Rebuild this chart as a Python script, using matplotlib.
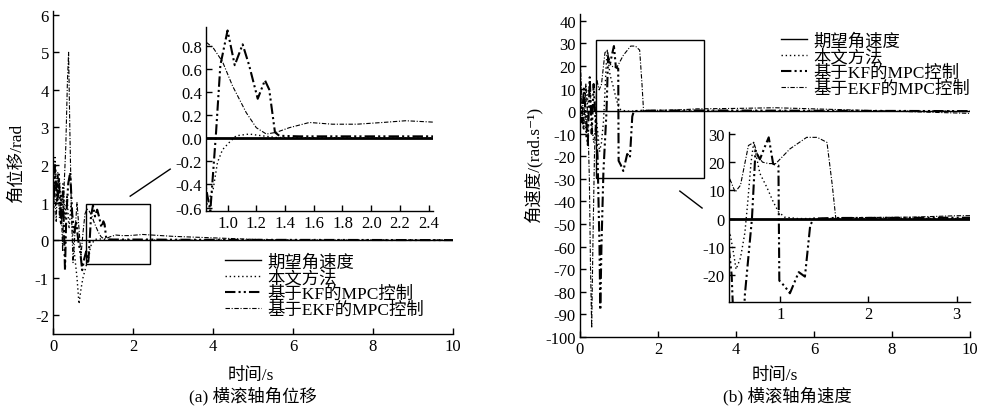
import matplotlib
matplotlib.use('Agg')
import matplotlib.pyplot as plt
from matplotlib.patches import Rectangle

plt.rcParams['font.family'] = ['Liberation Serif', 'Noto Sans CJK SC', 'DejaVu Serif']
plt.rcParams['axes.unicode_minus'] = False

labels = ['期望角速度', '本文方法', '基于KF的MPC控制', '基于EKF的MPC控制']

# (a) 横滚轴角位移
ref_a_t = [0, 10]
ref_a = [0, 0]

ours_a_t = [0, 0.05, 0.1, 0.15, 0.2, 0.25, 0.3, 0.35, 0.4, 0.45, 0.5, 0.55, 0.6, 0.65, 0.7,
            0.75, 0.8, 0.86, 0.9, 0.93, 0.965, 1.01, 1.06, 1.15, 1.24, 1.34, 2.0, 10]
ours_a = [0.3, 2.2, 1.2, 1.8, 0.9, 1.5, 0.6, 1.2, 0.3, 0.9, 0.0, -0.5, -1.0, -1.7, -1.3,
          -1.0, -0.8, -0.56, -0.44, -0.21, -0.1, -0.04, 0.02, 0.035, 0.02, 0.005, 0.0, 0.0]

kf_a_t = [0, 0.05, 0.1, 0.15, 0.2, 0.25, 0.3, 0.33, 0.38, 0.43, 0.48, 0.53, 0.58, 0.63, 0.68,
          0.73, 0.78, 0.83, 0.88, 0.92, 0.95, 1.0, 1.05, 1.105, 1.15, 1.21, 1.26, 1.29, 1.33,
          1.36, 1.5, 2.0, 2.4, 3.0, 10]
kf_a = [0.5, 2.0, 1.0, 1.6, 0.4, 1.3, -0.8, 0.6, 1.5, 1.8, 0.7, 0.2, 0.5, 0.0, -0.3,
        -0.8, -0.5, -0.3, -0.63, 0.05, 0.63, 0.93, 0.63, 0.81, 0.63, 0.34, 0.5, 0.42, 0.05,
        0.02, 0.015, 0.015, 0.015, 0.01, 0.0]

ekf_a_t = [0, 0.04, 0.08, 0.12, 0.16, 0.2, 0.24, 0.28, 0.32, 0.36, 0.39, 0.42, 0.46, 0.5, 0.55,
           0.6, 0.65, 0.7, 0.75, 0.8, 0.85, 0.9, 0.965, 1.035, 1.13, 1.2, 1.27, 1.34, 1.43,
           1.57, 1.73, 1.9, 2.08, 2.24, 2.4, 3.0, 4.0, 5.0, 6.0, 8.0, 10.0]
ekf_a = [0.8, 1.5, 0.5, 1.8, 0.6, 1.2, -0.3, 1.5, 2.5, 4.2, 5.0, 3.0, 0.8, -0.6, 0.2,
         1.0, 0.3, -0.4, 0.2, 0.7, 0.83, 0.78, 0.66, 0.45, 0.22, 0.09, 0.035, 0.05, 0.09,
         0.135, 0.12, 0.12, 0.135, 0.15, 0.14, 0.1, 0.06, 0.02, 0.0, 0.0, 0.0]

# (b) 横滚轴角速度
ref_b_t = [0, 10]
ref_b = [0, 0]

ours_b_t = [0, 0.04, 0.08, 0.12, 0.16, 0.2, 0.25, 0.3, 0.35, 0.4, 0.43, 0.47, 0.5, 0.55, 0.6,
            0.63, 0.67, 0.7, 0.73, 0.77, 0.85, 0.92, 0.98, 1.05, 1.2, 2.0, 10]
ours_b = [15, 2, -8, 5, -12, 8, 12, -5, -14, -8, -5, -12, -18, -14, -5,
          5, 20, 27, 22, 16, 11, 6, 2.4, 0.5, 0, 0, 0]

kf_b_t = [0, 0.05, 0.1, 0.15, 0.2, 0.25, 0.3, 0.35, 0.4, 0.45, 0.5, 0.52, 0.55, 0.6, 0.68,
          0.72, 0.77, 0.82, 0.87, 0.92, 0.98, 0.99, 1.05, 1.11, 1.21, 1.28, 1.34, 1.38, 1.6,
          3.0, 10]
kf_b = [8, -5, 10, -2, -15, 15, -10, 12, -5, -20, -60, -88, -60, -27, 0,
        24, 21, 25, 28.8, 19.4, 18.8, -22, -24, -26.5, -19, -20.6, -2.4, 0, 0.2,
        0.3, 0.0]

ekf_b_t = [0, 0.05, 0.1, 0.15, 0.2, 0.24, 0.27, 0.3, 0.33, 0.37, 0.43, 0.49, 0.55, 0.64, 0.7,
           0.75, 0.8, 0.87, 0.95, 1.11, 1.3, 1.42, 1.53, 1.59, 1.63, 1.7, 2.5, 3, 4, 5, 6, 7,
           8, 9, 10]
ekf_b = [25, 5, -8, 12, -3, -30, -70, -96, -60, -20, 14, 9.4, 11.8, 25.9, 27,
         22, 20, 19.5, 19.5, 24.7, 28.8, 28.8, 27, 11.8, 0, 0.3, 0.5, 1, 1.2, 1.5, 1, 0.5,
         0, -0.5, -1]

W, H = 983, 410
fig = plt.figure(figsize=(W / 100, H / 100), dpi=100)


def box(x0, y0, x1, y1):
    # pixel box (left, top, right, bottom) -> figure fraction
    return [x0 / W, 1 - y1 / H, (x1 - x0) / W, (y1 - y0) / H]


def style(ax, fs=12):
    ax.spines['top'].set_visible(False)
    ax.spines['right'].set_visible(False)
    ax.tick_params(direction='in', length=4, width=1, labelsize=fs, pad=3)
    for s in ('left', 'bottom'):
        ax.spines[s].set_linewidth(1)


def draw(ax, series, zero_lw):
    (rt, r), (ot, o), (kt, k), (et, e) = series
    ax.plot(rt, r, color='black', lw=zero_lw, label=labels[0])
    ax.plot(ot, o, color='black', lw=1.0, linestyle=(0, (1, 2)), label=labels[1])
    ax.plot(kt, k, color='black', lw=1.5, linestyle=(0, (5, 1.5, 1, 1.5, 1, 1.5)), label=labels[2])
    ax.plot(et, e, color='black', lw=0.8, linestyle=(0, (4, 1.5, 1, 1.5)), label=labels[3])


series_a = [(ref_a_t, ref_a), (ours_a_t, ours_a), (kf_a_t, kf_a), (ekf_a_t, ekf_a)]
series_b = [(ref_b_t, ref_b), (ours_b_t, ours_b), (kf_b_t, kf_b), (ekf_b_t, ekf_b)]

# ---- panel (a) ----
ax1 = fig.add_axes(box(53, 12, 453, 335))
style(ax1)
draw(ax1, series_a, 1.0)
ax1.set_xlim(0, 10)
ax1.set_ylim(-2.5, 6.1)
ax1.set_xticks([0, 2, 4, 6, 8, 10])
ax1.set_yticks([-2, -1, 0, 1, 2, 3, 4, 5, 6])
ax1.add_patch(Rectangle((0.83, -0.64), 1.6, 1.6, fill=False, ec='black', lw=1))
ax1.plot([1.93, 2.93], [1.17, 1.89], color='black', lw=1)
ax1.legend(loc='upper left', bbox_to_anchor=(225 / W, 1 - 255 / H), bbox_transform=fig.transFigure,
           frameon=False, fontsize=12.5, handlelength=2.1, handletextpad=0.35,
           labelspacing=-0.03, borderpad=0, borderaxespad=0)

ins1 = fig.add_axes(box(206, 28, 433, 212))
style(ins1)
draw(ins1, series_a, 2.0)
ins1.set_xlim(0.85, 2.43)
ins1.set_ylim(-0.63, 0.96)
ins1.set_xticks([1.0, 1.2, 1.4, 1.6, 1.8, 2.0, 2.2, 2.4])
ins1.set_yticks([-0.6, -0.4, -0.2, 0.0, 0.2, 0.4, 0.6, 0.8])
ins1.set_xticklabels(['%.1f' % v for v in ins1.get_xticks()])
ins1.set_yticklabels(['%.1f' % v for v in ins1.get_yticks()])

fig.text(17 / W, 1 - 163 / H, '角位移/rad', rotation=90, ha='center', va='center', fontsize=12.5)
fig.text(251 / W, 1 - 376 / H, '时间/s', ha='center', va='center', fontsize=12.5)
fig.text(253 / W, 1 - 396 / H, '(a) 横滚轴角位移', ha='center', va='center', fontsize=12.5)

# ---- panel (b) ----
ax2 = fig.add_axes(box(580, 15, 970, 338))
style(ax2)
draw(ax2, series_b, 1.0)
ax2.set_xlim(0, 10)
ax2.set_ylim(-100, 43)
ax2.set_xticks([0, 2, 4, 6, 8, 10])
ax2.set_yticks(list(range(-100, 41, 10)))
ax2.add_patch(Rectangle((0.41, -29.6), 2.77, 61.0, fill=False, ec='black', lw=1))
ax2.plot([2.56, 3.13], [-35.4, -42.9], color='black', lw=1)
ax2.legend(loc='upper left', bbox_to_anchor=(781 / W, 1 - 34 / H), bbox_transform=fig.transFigure,
           frameon=False, fontsize=12.5, handlelength=1.5, handletextpad=0.35,
           labelspacing=-0.03, borderpad=0, borderaxespad=0)

ins2 = fig.add_axes(box(729, 133, 970, 303))
style(ins2)
draw(ins2, series_b, 2.0)
ins2.set_xlim(0.42, 3.15)
ins2.set_ylim(-29.6, 30.7)
ins2.set_xticks([1, 2, 3])
ins2.set_yticks([-20, -10, 0, 10, 20, 30])

fig.text(533 / W, 1 - 165 / H, '角速度/(rad.s⁻¹)', rotation=90, ha='center', va='center', fontsize=12.5)
fig.text(775 / W, 1 - 376 / H, '时间/s', ha='center', va='center', fontsize=12.5)
fig.text(787 / W, 1 - 396 / H, '(b) 横滚轴角速度', ha='center', va='center', fontsize=12.5)

fig.savefig('out.png', dpi=100)
